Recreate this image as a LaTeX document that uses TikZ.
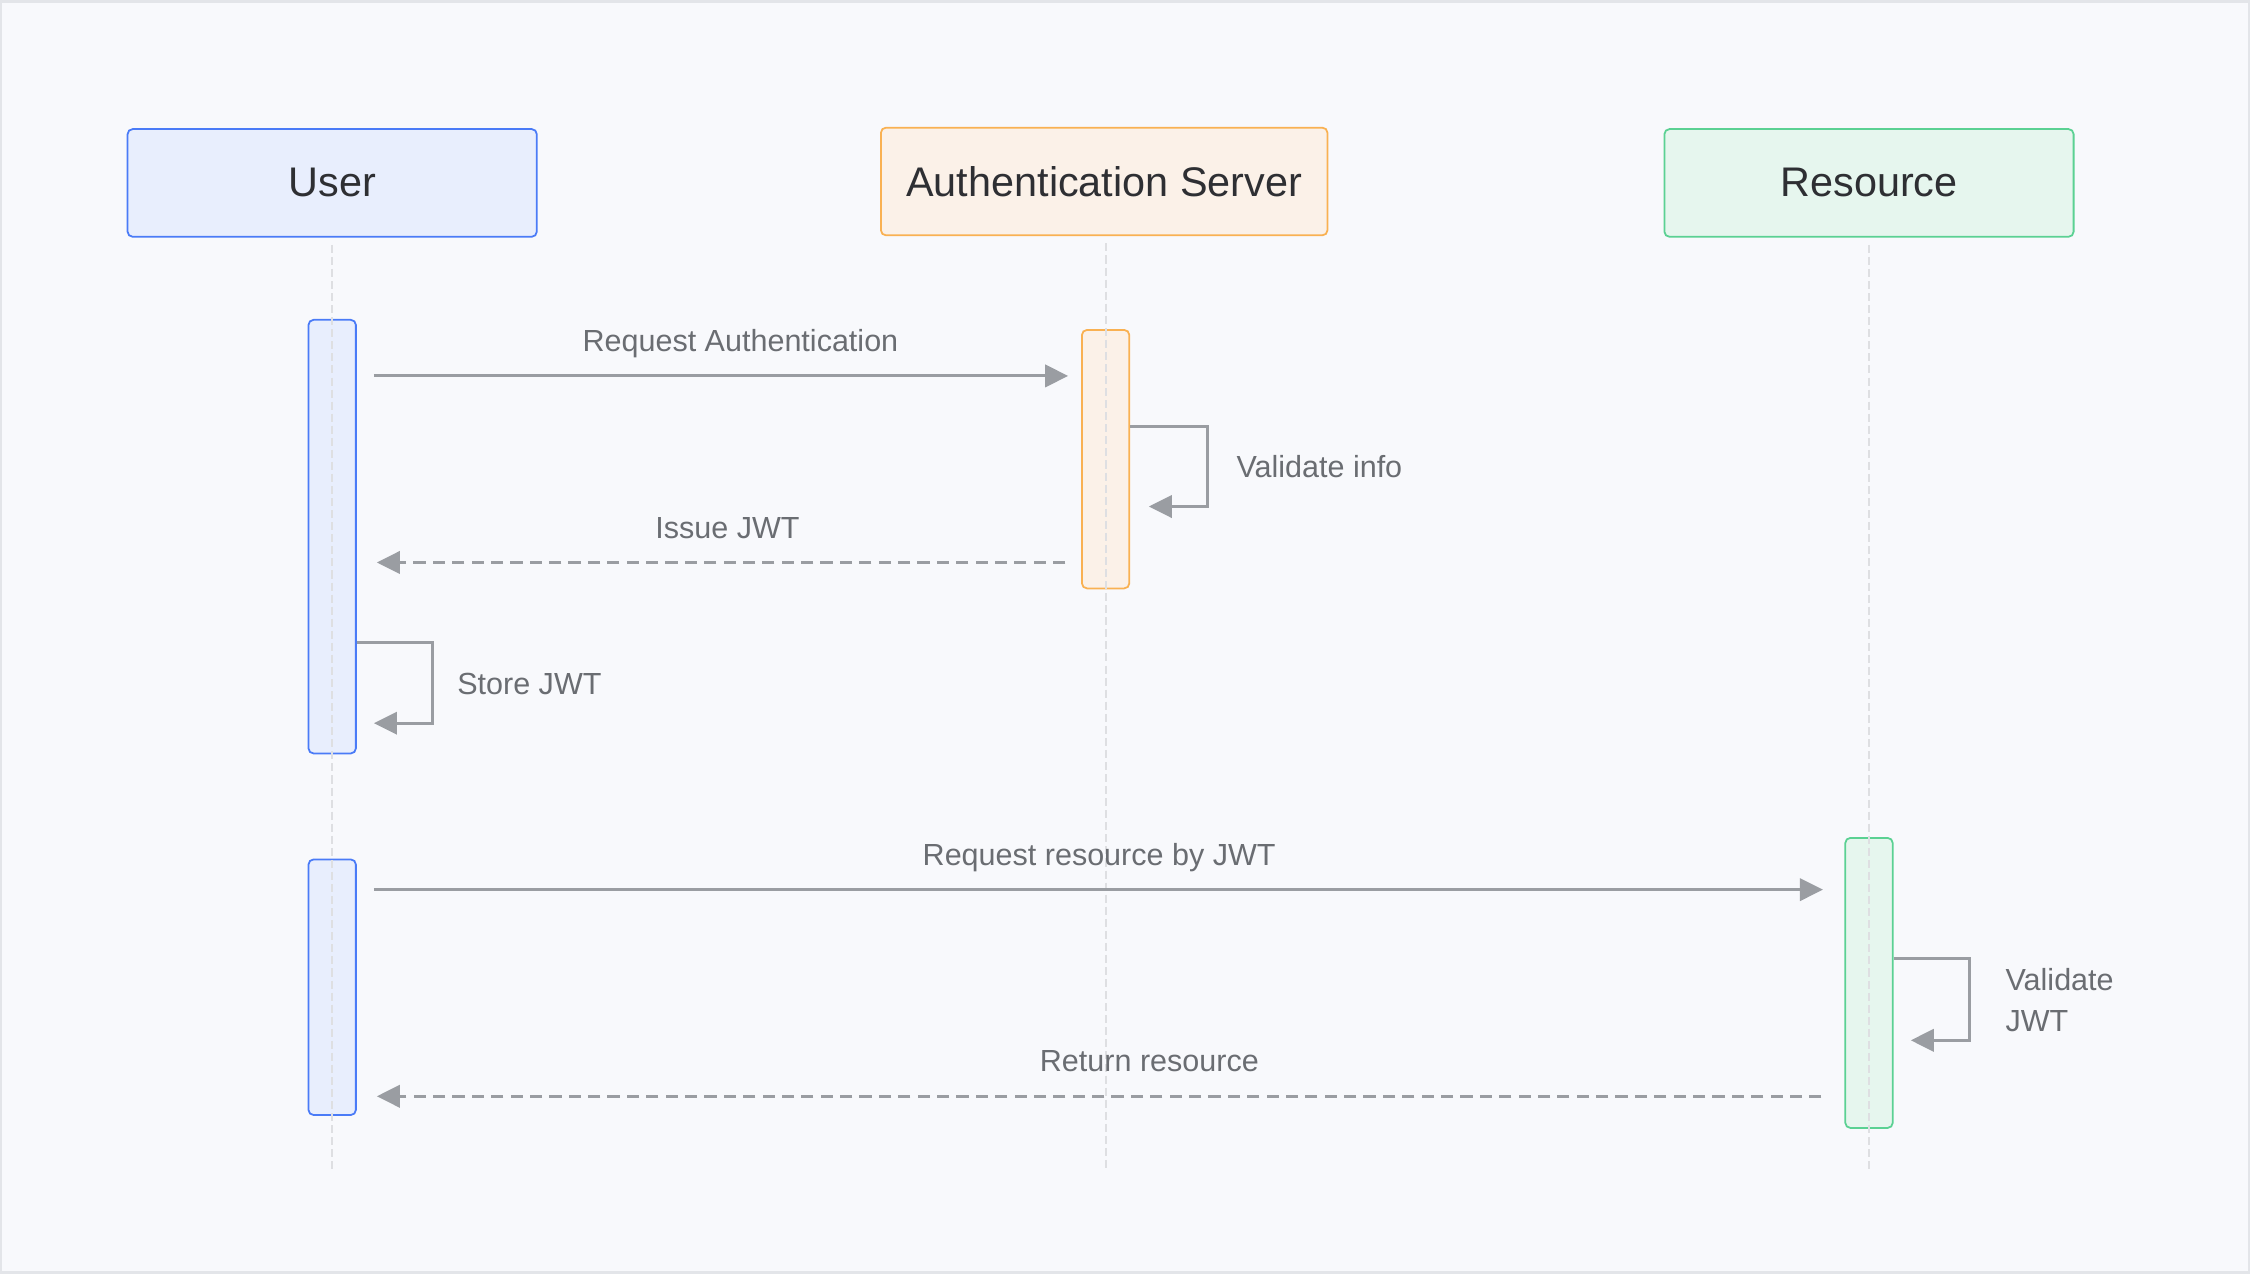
\documentclass[tikz,border=0pt]{standalone}
\usepackage{fontspec}
\setmainfont{Liberation Sans}
\usetikzlibrary{arrows.meta,positioning}
\definecolor{bgcol}{HTML}{F8F9FC}
\definecolor{framecol}{HTML}{E3E5E9}
\definecolor{usrfill}{HTML}{E8EEFD}
\definecolor{usrline}{HTML}{4A7BF7}
\definecolor{authfill}{HTML}{FBF1E8}
\definecolor{authline}{HTML}{F9B152}
\definecolor{resfill}{HTML}{E6F6EE}
\definecolor{resline}{HTML}{5BD193}
\definecolor{lifecol}{HTML}{DEDFE2}
\definecolor{msgcol}{HTML}{9A9DA2}
\definecolor{lblcol}{HTML}{6A6D72}
\definecolor{titletext}{HTML}{2E2F33}
\tikzset{
  actor/.style={draw, rounded corners=1pt, line width=0.35pt, minimum height=0.75cm,
    font=\fontsize{8.2}{10}\selectfont, text=titletext},
  bar/.style={draw, rounded corners=1pt, line width=0.35pt, minimum width=0.33cm, inner sep=0pt},
  life/.style={draw=lifecol, line width=0.42pt, dash pattern=on 0.056cm off 0.028cm},
  msg/.style={draw=msgcol, line width=0.6pt, -{Triangle[length=0.16cm,width=0.155cm]}},
  reply/.style={msg, dash pattern=on 0.085cm off 0.05cm},
  lbl/.style={font=\fontsize{6.05}{8.1}\selectfont, text=lblcol, inner sep=0pt}
}
\begin{document}
\begin{tikzpicture}[x=0.01cm,y=-0.01cm]
\useasboundingbox (0,0) rectangle (1568,889);
\draw[framecol, fill=bgcol, line width=0.6pt] (0.5,1) rectangle (1567.5,887);

\node[actor, fill=usrfill, draw=usrline, minimum width=2.85cm] (user) at (231.5,127.5) {User};
\node[actor, fill=authfill, draw=authline, minimum width=3.11cm] (auth) at (769.5,126.5) {Authentication Server};
\node[actor, fill=resfill, draw=resline, minimum width=2.85cm] (res) at (1302.5,127.5) {Resource};

\node[bar, fill=usrfill, draw=usrline, minimum height=3.02cm] (ubar1) at (231.5,374) {};
\node[bar, fill=usrfill, draw=usrline, minimum height=1.78cm] (ubar2) at (231.5,688) {};
\node[bar, fill=authfill, draw=authline, minimum height=1.80cm] (abar) at (770.5,320) {};
\node[bar, fill=resfill, draw=resline, minimum height=2.02cm] (rbar) at (1302.5,685) {};

\coordinate (uend) at (user.south |- 0,815);
\coordinate (aend) at ([xshift=0.01cm]auth.south |- 0,815);
\coordinate (rend) at (res.south |- 0,815);
\draw[life] ([yshift=-0.05cm]user.south) -- (uend);
\draw[life] ([shift={(0.01cm,-0.05cm)}]auth.south) -- (aend);
\draw[life] ([yshift=-0.05cm]res.south) -- (rend);

\draw[msg, shorten <=0.12cm, shorten >=0.09cm] (ubar1.east |- 0,262) -- (abar.west |- 0,262);
\node[lbl, anchor=base] (lreq) at (516,245) {Request Authentication};

\draw[msg] (abar.east |- 0,297) -- ++(54,0) |- ([xshift=0.13cm]abar.east |- 0,353);
\node[lbl, anchor=base west] (lval) at (861,333) {Validate info};

\draw[reply, shorten <=0.11cm, shorten >=0.14cm] (abar.west |- 0,392) -- (ubar1.east |- 0,392);
\node[lbl, anchor=base] (liss) at (507,375) {Issue JWT};

\draw[msg] (ubar1.east |- 0,448) -- ++(53,0) |- ([xshift=0.12cm]ubar1.east |- 0,504);
\node[lbl, anchor=base west] (lsto) at (318,484) {Store JWT};

\draw[msg, shorten <=0.12cm, shorten >=0.15cm] (ubar2.east |- 0,620) -- (rbar.west |- 0,620);
\node[lbl, anchor=base] (lrrq) at (766,603) {Request resource by JWT};

\draw[msg] (rbar.east |- 0,668) -- ++(53,0) |- ([xshift=0.12cm]rbar.east |- 0,725);
\node[lbl, anchor=west, align=left] (lvjw) at (1397,697) {Validate\\JWT};

\draw[reply, shorten <=0.16cm, shorten >=0.14cm] (rbar.west |- 0,764) -- (ubar2.east |- 0,764);
\node[lbl, anchor=base] (lret) at (801,747) {Return resource};
\end{tikzpicture}
\end{document}
